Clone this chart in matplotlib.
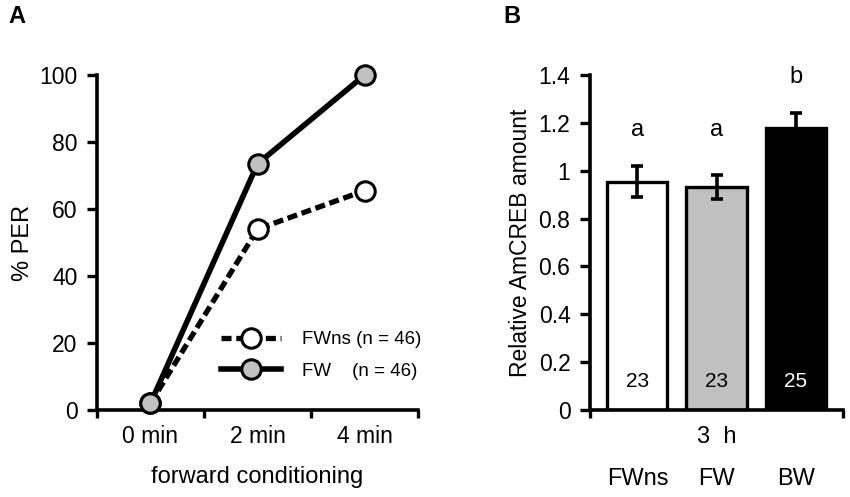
import numpy as np
import matplotlib.pyplot as plt
from matplotlib.ticker import FormatStrFormatter

plt.rcParams['font.family'] = ['Liberation Sans', 'DejaVu Sans']

# panel A data
time_labels = ['0 min', '2 min', '4 min']
per_fwns = [2, 54, 65.5]
per_fw = [2, 73.5, 100]

# panel B data
groups = ['FWns', 'FW', 'BW']
creb_mean = [0.955, 0.932, 1.18]
creb_err = [0.065, 0.05, 0.06]
creb_n = ['23', '23', '25']
sig_letters = ['a', 'a', 'b']
bar_colors = ['white', '#c0c0c0', 'black']

fig = plt.figure(figsize=(8.5, 4.97), dpi=100)

# ---- panel A ----
ax = fig.add_axes([0.114, 0.175, 0.378, 0.674])
x = np.arange(len(time_labels))
ax.plot(x, per_fwns, '--', color='black', lw=3.8, dashes=(1.9, 0.9),
        marker='o', ms=14, mfc='white', mec='black', mew=2.2,
        clip_on=False, zorder=3, label='FWns (n = 46)')
ax.plot(x, per_fw, '-', color='black', lw=4.0,
        marker='o', ms=14, mfc='#c0c0c0', mec='black', mew=2.2,
        clip_on=False, zorder=4, label='FW    (n = 46)')
ax.set_xlim(-0.5, 2.5)
ax.set_ylim(0, 100)
ax.set_yticks([0, 20, 40, 60, 80, 100])
ax.set_xticks(x)
ax.set_xticklabels(time_labels)
ax.set_xticks([-0.5, 0.5, 1.5, 2.5], minor=True)
ax.tick_params(axis='x', which='major', length=0, pad=11, labelsize=16.5)
ax.tick_params(axis='x', which='minor', length=6, width=2.4, direction='out')
ax.tick_params(axis='y', length=7, width=2.4, labelsize=16.5, pad=7)
ax.set_ylabel('% PER', fontsize=17, labelpad=4)
ax.set_xlabel('forward conditioning', fontsize=17, labelpad=13)
for s in ['top', 'right']:
    ax.spines[s].set_visible(False)
for s in ['left', 'bottom']:
    ax.spines[s].set_linewidth(2.6)
ax.legend(loc='upper left', bbox_to_anchor=(0.385, 0.235), frameon=False,
          borderpad=0, fontsize=13.5, handlelength=3.2, handletextpad=1.15,
          labelspacing=0.75, borderaxespad=0)
fig.text(0.01, 0.966, 'A', fontsize=17, fontweight='bold', va='center')

# ---- panel B ----
bx = fig.add_axes([0.694, 0.175, 0.298, 0.674])
xb = np.arange(len(groups))
bx.bar(xb, creb_mean, width=0.76, color=bar_colors, edgecolor='black',
       linewidth=2.4, zorder=2)
bx.errorbar(xb, creb_mean, yerr=creb_err, fmt='none', ecolor='black',
            elinewidth=2.6, capsize=4, capthick=2.6, zorder=3)
tops = np.array(creb_mean) + np.array(creb_err)
for xi, n, c, letter in zip(xb, creb_n, bar_colors, sig_letters):
    bx.text(xi, 0.12, n, ha='center', va='center', fontsize=15,
            color='white' if c == 'black' else 'black')
    same = [t for t, l in zip(tops, sig_letters) if l == letter]
    bx.text(xi, max(same) + 0.15, letter, ha='center', va='center',
            fontsize=17)
bx.set_xlim(-0.6, 2.6)
bx.set_ylim(0, 1.4)
bx.set_yticks(np.arange(0, 1.41, 0.2))
bx.yaxis.set_major_formatter(FormatStrFormatter('%g'))
bx.set_xticks(xb)
bx.set_xticklabels(groups)
bx.set_xticks([-0.6, 2.6], minor=True)
bx.tick_params(axis='x', which='major', length=0, pad=42, labelsize=17)
bx.tick_params(axis='x', which='minor', length=6, width=2.4, direction='out')
bx.tick_params(axis='y', length=7, width=2.4, labelsize=16.5, pad=7)
bx.set_ylabel('Relative AmCREB amount', fontsize=16.5, labelpad=5)
bx.text(1, -0.08, '3  h', ha='center', va='center', fontsize=17,
        transform=bx.get_xaxis_transform())
for s in ['top', 'right']:
    bx.spines[s].set_visible(False)
for s in ['left', 'bottom']:
    bx.spines[s].set_linewidth(2.6)
fig.text(0.592, 0.966, 'B', fontsize=17, fontweight='bold', va='center')

fig.savefig('out.png', dpi=100)
